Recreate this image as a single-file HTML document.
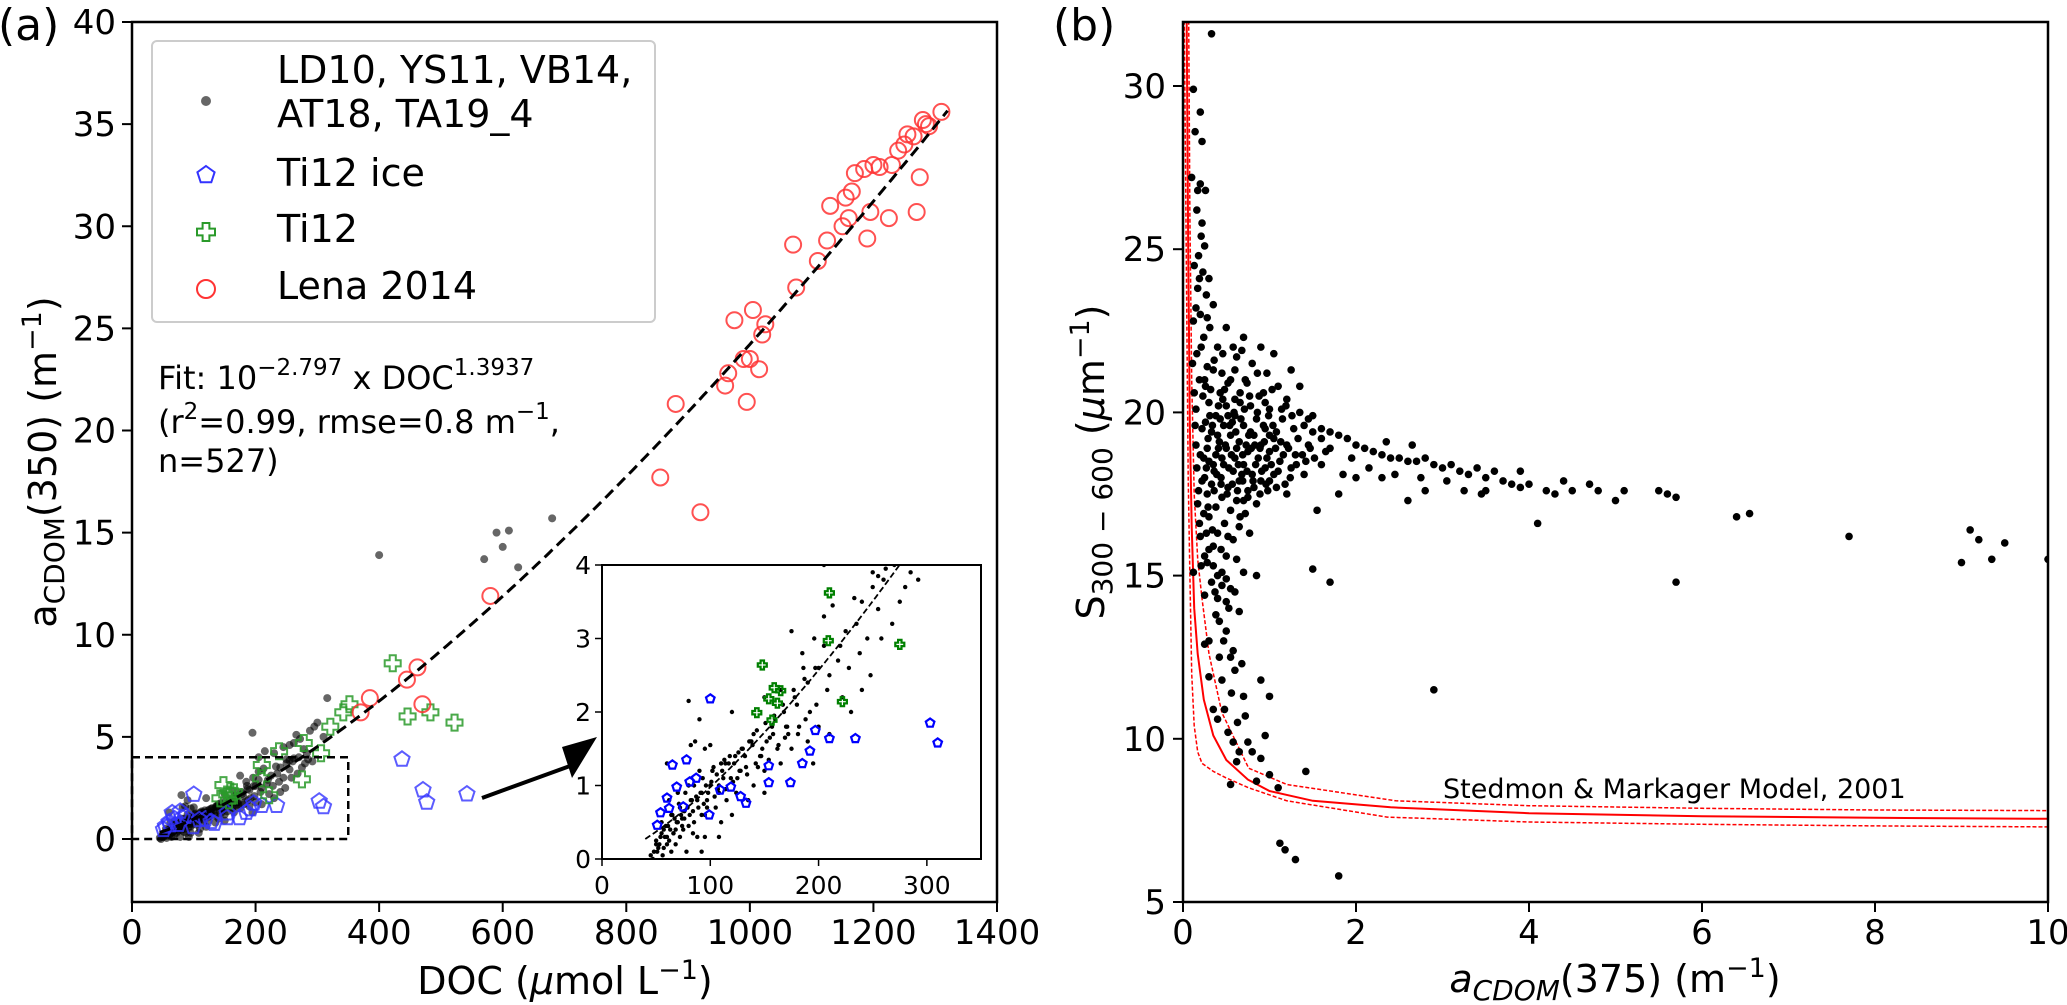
<!DOCTYPE html>
<html><head><meta charset="utf-8"><style>
html,body{margin:0;padding:0;background:#fff;}
svg{display:block;font-family:"DejaVu Sans","Liberation Sans",sans-serif;}
</style></head><body>
<svg id="fig" width="2067" height="1005" viewBox="0 0 2067 1005" xmlns="http://www.w3.org/2000/svg">
<defs>
<clipPath id="clipA"><rect x="132" y="22" width="865" height="880"/></clipPath>
<clipPath id="clipI"><rect x="602" y="565" width="379" height="294"/></clipPath>
<clipPath id="clipB"><rect x="1183" y="22" width="865" height="880"/></clipPath>
</defs>
<g id="layerA"></g>
<g id="layerB"></g>
</svg>
<script>
// ---------- Panel (a) data ----------
const aXTicks = [0,200,400,600,800,1000,1200,1400];
const aYTicks = [0,5,10,15,20,25,30,35,40];
const insetXTicks = [0,100,200,300];
const insetYTicks = [0,1,2,3,4];
const fitCoef = -2.797;
const fitExp = 1.3937;
const lenaDOC = [370,385,445,462,470,580,855,880,920,960,965,975,990,995,1000,1005,1015,1020,1025,1070,1075,1110,1125,1130,1150,1155,1160,1165,1170,1185,1190,1195,1200,1210,1225,1230,1240,1250,1255,1265,1270,1275,1280,1285,1290,1310];
const lenaA = [6.2,6.9,7.8,8.4,6.6,11.9,17.7,21.3,16.0,22.2,22.8,25.4,23.5,21.4,23.5,25.9,23.0,24.7,25.2,29.1,27.0,28.3,29.3,31.0,30.0,31.4,30.4,31.7,32.6,32.8,29.4,30.7,33.0,32.9,30.4,33.0,33.7,34.0,34.5,34.4,30.7,32.4,35.2,35.0,34.9,35.6];
const ti12DOC = [210,209,275,148,159,165,154,162,222,143,157,422,446,483,522,352,342,321,306,238,278];
const ti12A = [3.62,2.97,2.92,2.64,2.33,2.29,2.18,2.12,2.14,1.99,1.89,8.6,6.0,6.2,5.7,6.6,6.2,5.5,4.2,4.3,4.7];
const iceDOC = [303,310,234,210,197,192,185,174,154,154,100,128,133,119,109,99,65,78,69,60,54,51,62,75,81,87,437,471,477,542];
const iceA = [1.85,1.58,1.64,1.64,1.75,1.47,1.30,1.04,1.04,1.27,2.18,0.85,0.76,0.98,0.94,0.6,1.28,1.35,0.98,0.83,0.63,0.46,0.69,0.71,1.05,1.1,3.9,2.4,1.8,2.2];
const otherDOC = [400,570,590,600,610,625,680,195,316,266,262,288,295,283,300,272,230,215,250,240,205,175,185,150,120,90,70,55,50,60,80,100,95,110,130,140,160,165,170,180,190,200,210,220,225,235,245,255,260,270,275,285,165,150,140,125,115,105,95,85,75,65,68,78,88,98,108,118,128,138,148,158,168,178,188,198,208,218,228,238,248,258,268,190,175,200,62,72,82,92,102,112,122,132,142,152,162,172,182,57,45,52,66,74,84,94,104,114,124,134,144,154,86,80,82,100,60,90,250,255,262,233,213,196,186,205,280,292,240,222,230,195,210,150,135,120,110,95,92,108,245,255,278,310,205,
48,50,53,55,58,61,63,67,70,73,76,79,83,87,91,96,101,106,111,117,123,129,136,143,151,159,167,177,187,197,
47,51,54,57,59,62,64,66,69,71,74,77,81,85,89,93,97,103,107,113,119,126,133,139,146,155,163,171,181,192,
56,60,64,68,72,76,80,84,88,92,97,102,108,114,121,127,137,147,157,169];
const otherA = [13.9,13.7,15.0,14.3,15.1,13.3,15.7,5.2,6.9,5.1,4.7,5.3,5.5,4.2,5.7,4.9,4.2,4.3,3.7,3.5,3.3,3.1,2.8,2.2,2.0,1.2,0.9,0.5,0.2,0.3,1.0,1.0,1.5,1.3,1.5,1.7,1.9,2.3,1.8,2.1,2.4,2.6,2.5,2.9,3.1,3.2,3.0,3.4,3.8,4.0,3.5,3.9,1.3,1.2,1.0,1.1,0.8,0.7,0.6,0.5,0.4,0.6,0.2,0.1,0.3,0.9,1.0,1.4,1.2,1.6,1.5,1.7,2.0,2.2,1.9,2.1,2.3,2.7,2.6,2.8,2.5,3.0,3.2,1.6,1.5,1.8,0.8,0.7,0.8,0.9,1.2,1.1,1.3,1.4,1.3,1.6,1.5,1.7,1.8,0.4,0.05,0.15,0.35,0.55,0.65,0.75,0.85,0.95,0.9,1.15,1.25,1.35,1.6,2.15,1.55,1.55,1.3,1.9,3.9,3.85,3.95,3.55,3.45,3.0,2.6,2.9,3.7,3.8,2.3,2.2,2.0,1.3,1.7,0.9,0.8,0.6,0.5,0.3,0.1,0.3,4.5,4.6,4.4,5.0,4.0,
0.1,0.25,0.2,0.35,0.3,0.45,0.4,0.55,0.5,0.6,0.65,0.7,0.8,0.85,0.9,1.0,1.05,1.15,1.2,1.3,1.4,1.5,1.6,1.75,1.85,1.95,2.1,2.3,2.45,2.6,
0.0,0.1,0.3,0.15,0.45,0.25,0.6,0.35,0.5,0.75,0.45,0.9,0.6,1.0,0.7,1.1,0.8,1.25,0.95,1.35,1.1,1.45,1.25,1.55,1.4,1.65,1.55,1.8,1.7,2.0,
0.05,0.2,0.1,0.4,0.3,0.55,0.45,0.35,0.8,0.6,0.7,1.2,0.9,1.3,1.05,1.2,1.6,1.4,1.8,1.65];

// ---------- Panel (b) data ----------
const bXTicks = [0,2,4,6,8,10];
const bYTicks = [5,10,15,20,25,30];
const solidX = [0.043,0.06,0.08,0.1,0.13,0.17,0.24,0.35,0.5,0.75,1,1.5,2.4,4,6,8,10];
const solidS = [32,25,19.5,16.5,14,12.6,11.2,10.1,9.35,8.75,8.4,8.1,7.9,7.72,7.63,7.58,7.55];
const upperX = [0.066,0.08,0.1,0.13,0.17,0.22,0.3,0.45,0.76,1.2,2.46,4,6,8,10];
const upperS = [32,26,21,17.5,15.5,14.3,12.6,10.8,9.1,8.6,8.1,7.95,7.87,7.82,7.8];
const lowerX = [0.015,0.04,0.06,0.08,0.1,0.13,0.17,0.22,0.35,0.5,0.76,1.2,2.36,4,6,8,10];
const lowerS = [32,24,18,15,12,10.4,9.6,9.25,9.0,8.8,8.5,8.1,7.6,7.45,7.38,7.33,7.3];
const bPts = [[0.33,31.6],[0.12,29.9],[0.2,29.2],[0.14,28.6],[0.22,28.3],[0.1,27.2],[0.2,27.0],[0.26,26.8],[0.16,26.2],[0.21,25.4],[0.25,25.1],[0.18,24.8],[0.13,24.5],[0.23,24.3],[0.3,24.1],[0.17,23.8],[0.27,23.6],[0.35,23.3],[0.2,23.0],[0.12,22.8],[0.31,22.6],[0.24,22.3],[0.4,22.0],[0.16,21.8],[0.36,21.6],[0.28,21.4],[0.45,21.2],[0.19,21.0],[0.52,20.9],[0.32,20.7],[0.23,20.5],[0.6,20.4],[0.41,20.2],[0.15,20.1],
[0.5,22.6],[0.7,22.3],[0.9,22.0],[1.05,21.8],[0.62,21.7],[0.8,21.5],[0.35,21.3],[0.97,21.2],[0.55,21.0],[0.74,20.9],[1.1,20.8],[0.43,20.6],[0.66,20.6],[0.88,20.5],[1.2,20.4],[0.3,20.3],[0.5,20.2],[0.78,20.2],[1.0,20.1],[1.35,20.0],[0.38,19.9],[0.6,19.9],[0.85,19.8],[1.15,19.8],[0.26,19.7],[0.47,19.6],[0.7,19.6],[0.95,19.5],[1.28,19.5],[1.5,19.4],[0.33,19.4],[0.55,19.3],[0.82,19.3],[1.05,19.2],[0.42,19.1],[0.65,19.1],[0.9,19.0],[1.2,19.0],[1.45,19.0],[0.28,18.9],[0.5,18.9],[0.75,18.8],[1.0,18.8],[1.3,18.7],[0.38,18.7],[0.6,18.6],[0.87,18.6],[1.12,18.5],[0.3,18.5],[0.47,18.4],[0.7,18.4],[0.95,18.3],[1.25,18.3],[0.36,18.2],[0.58,18.2],[0.8,18.1],[1.05,18.1],[0.25,18.0],[0.44,18.0],[0.65,17.9],[0.9,17.9],[1.18,17.8],[0.33,17.8],[0.52,17.7],[0.75,17.6],[0.98,17.6],[0.28,17.5],[0.45,17.4],[0.62,17.3],[0.85,17.2],[0.38,17.1],[0.55,17.0],[0.72,16.9],[0.3,16.8],[0.48,16.6],[0.65,16.5],[0.4,16.3],[0.58,16.1],[0.35,15.9],[0.5,15.6],[0.28,15.4],[0.45,15.1],[0.33,14.8],[0.55,14.6],[0.4,14.3],
[0.57,19.7],[0.73,19.0],[0.93,19.6],[0.45,18.6],[0.68,18.1],[0.83,19.0],[1.08,19.4],[0.52,19.9],[0.62,18.9],[0.77,20.5],[0.4,19.3],[0.35,18.4],[1.0,17.9],[0.7,17.3],[0.95,20.3],[1.4,19.6],[1.6,19.2],[1.7,18.9],[0.2,18.7],[0.22,19.5],[0.18,17.6],[0.24,16.9],[0.2,16.2],[0.26,20.8],[0.15,19.0],
[0.12,15.1],[0.35,15.3],[0.4,15.0],[0.45,14.7],[0.5,14.9],[0.6,14.5],[0.25,14.4],[0.5,14.2],[0.65,13.9],[0.3,13.0],[0.55,12.5],[0.6,12.1],[0.45,11.8],[0.7,11.3],[0.35,10.9],[0.52,10.2],[0.65,9.6],[0.8,9.6],[0.9,9.4],[0.55,8.6],[1.0,8.9],[0.85,8.7],[1.1,8.5],[0.62,9.3],[0.4,10.6],[0.3,11.9],[0.72,10.7],[0.25,12.9],[0.5,13.3],[0.58,12.7],[1.12,6.8],[1.18,6.6],[1.3,6.3],[1.8,5.8],[1.42,9.0],[2.9,11.5],[1.0,11.3],[0.9,11.8],[0.95,10.1],
[1.5,19.9],[1.6,19.5],[1.7,19.4],[1.8,19.3],[1.9,19.2],[2.0,19.0],[2.1,18.9],[2.2,18.8],[2.3,18.7],[2.4,18.6],[2.5,18.6],[2.6,18.5],[2.7,18.5],[2.8,18.6],[2.9,18.4],[3.0,18.3],[3.1,18.4],[3.2,18.2],[3.3,18.1],[3.4,18.3],[3.5,18.0],[3.6,18.2],[3.7,17.9],[3.8,17.8],[3.9,17.7],[4.0,17.8],[4.2,17.6],[4.3,17.5],[4.5,17.6],[4.7,17.8],[4.8,17.6],[5.1,17.6],[5.5,17.6],[5.6,17.5],[5.7,17.4],[6.4,16.8],[6.55,16.9],[7.7,16.2],[9.0,15.4],[9.1,16.4],[9.2,16.1],[9.35,15.5],[9.5,16.0],[10.0,15.5],[5.7,14.8],[1.7,14.8],[1.5,15.2],[4.1,16.6],[2.8,17.6],[2.0,18.0],[1.8,17.5],[2.3,18.0],[1.4,18.1],[1.6,18.4],[1.55,17.0],[2.6,17.3],[3.5,17.6],[1.35,20.8],[1.25,21.3],
[1.95,18.6],[2.15,18.3],[2.45,18.1],[2.75,18.0],[3.05,17.9],[3.25,17.6],[3.45,17.5],[1.65,18.8],[1.85,18.1],[2.35,19.1],[2.65,19.0],[1.45,19.8],[3.9,18.2],[4.4,17.9],[5.0,17.3],
[0.29,19.2],[0.34,19.6],[0.39,18.1],[0.43,19.8],[0.46,20.4],[0.49,19.0],[0.53,18.3],[0.56,18.7],[0.59,20.0],[0.61,19.4],[0.64,18.4],[0.67,19.8],[0.69,18.7],[0.71,20.1],[0.74,18.2],[0.76,19.3],[0.79,18.9],[0.81,17.9],[0.84,18.4],[0.86,20.0],[0.89,18.9],[0.91,18.2],[0.94,19.1],[0.97,18.6],[0.99,19.9],[1.02,18.4],[1.04,19.6],[1.07,18.9],[1.1,18.2],[1.13,19.1],[1.16,18.7],[1.19,20.2],[1.22,18.9],[1.26,19.9],[1.31,18.4],[1.33,19.2],[1.38,18.7],[1.42,18.5],[1.47,18.9],[1.52,18.6],
[0.27,18.3],[0.31,19.9],[0.36,17.6],[0.41,18.9],[0.44,17.8],[0.48,20.7],[0.51,17.5],[0.54,19.6],[0.57,17.8],[0.6,21.3],[0.63,17.6],[0.66,20.3],[0.69,17.9],[0.72,21.0],[0.75,17.4],[0.78,19.4],[0.82,17.7],[0.86,21.2],[0.89,17.5],[0.93,20.6],[0.96,17.8],[1.0,19.3],[1.03,20.7],[1.08,17.7],[1.14,20.1],[1.2,17.5],[1.24,18.0],[0.46,21.8],[0.58,22.0],[0.68,21.9],
[0.11,21.5],[0.13,20.6],[0.14,19.6],[0.16,18.3],[0.17,17.2],[0.19,16.6],[0.21,22.0],[0.22,17.9],[0.24,18.6],[0.25,21.0],[0.27,16.3],[0.29,17.1],[0.15,23.2],[0.19,24.1],[0.22,25.8],[0.17,26.8],[0.28,22.9],[0.3,15.8],[0.25,15.6],[0.21,15.3],
[0.34,16.4],[0.37,14.5],[0.42,13.6],[0.47,13.0],[0.53,14.0],[0.56,11.4],[0.63,10.5],[0.68,12.3],[0.75,9.9],[0.58,9.9],[0.48,10.9],[0.42,12.5],[0.38,13.8],[0.62,15.5],[0.52,16.2],[0.44,15.8],[0.66,16.8],[0.77,16.3],[0.7,15.1],[0.85,15.0]];

// ---------- scales ----------
const ax = v => 132 + v * (865 / 1400);
const ay = v => 839 - v * 20.425;
const ix = v => 602 + v * (379 / 350);
const iy = v => 859 - v * 73.5;
const bx = v => 1183 + v * 86.5;
const by = v => 902 - (v - 5) * 32.64;

const NS = 'http://www.w3.org/2000/svg';
function mk(tag, attrs, parent) {
  const e = document.createElementNS(NS, tag);
  for (const k in attrs) e.setAttribute(k, attrs[k]);
  parent.appendChild(e);
  return e;
}
function txt(parent, x, y, s, size, anchor, extra) {
  const t = mk('text', Object.assign({x: x, y: y, 'font-size': size, 'text-anchor': anchor || 'start', fill: '#000'}, extra || {}), parent);
  t.textContent = s;
  return t;
}
function pentPts(cx, cy, r) {
  const p = [];
  for (let i = 0; i < 5; i++) {
    const a = -Math.PI / 2 + i * 2 * Math.PI / 5;
    p.push((cx + r * Math.cos(a)).toFixed(1) + ',' + (cy + r * Math.sin(a)).toFixed(1));
  }
  return p.join(' ');
}
function crossPts(cx, cy, r) {
  const w = r * 0.38;
  const pts = [[-w,-r],[w,-r],[w,-w],[r,-w],[r,w],[w,w],[w,r],[-w,r],[-w,w],[-r,w],[-r,-w],[-w,-w]];
  return pts.map(p => (cx + p[0]).toFixed(1) + ',' + (cy + p[1]).toFixed(1)).join(' ');
}

// ================= Panel A =================
const A = document.getElementById('layerA');
const aData = mk('g', {'clip-path': 'url(#clipA)'}, A);



const gOther = mk('g', {}, aData);


otherDOC.forEach((d, i) => {
  const c = mk('circle', {cx: ax(d), cy: ay(otherA[i]), r: 4, fill: '#000', 'fill-opacity': 0.6}, gOther);
  
  
});
const gIce = mk('g', {}, aData);


iceDOC.forEach((d, i) => {
  const p = mk('polygon', {points: pentPts(ax(d), ay(iceA[i]), 8), fill: 'none', stroke: '#3333ff', 'stroke-opacity': 0.8, 'stroke-width': 2}, gIce);
  
  
});
const gTi = mk('g', {}, aData);


ti12DOC.forEach((d, i) => {
  const p = mk('polygon', {points: crossPts(ax(d), ay(ti12A[i]), 8), fill: 'none', stroke: '#2a9a2a', 'stroke-opacity': 0.85, 'stroke-width': 2}, gTi);
  
  
});
const gLena = mk('g', {}, aData);


lenaDOC.forEach((d, i) => {
  const c = mk('circle', {cx: ax(d), cy: ay(lenaA[i]), r: 8, fill: 'none', stroke: '#ff3333', 'stroke-opacity': 0.85, 'stroke-width': 2}, gLena);
  
  
});
let fd = '';
for (let d = 45; d <= 1320; d += 5) {
  const v = Math.pow(10, fitCoef) * Math.pow(d, fitExp);
  fd += (fd ? 'L' : 'M') + ax(d).toFixed(1) + ',' + ay(v).toFixed(1);
}
const fitLine = mk('path', {d: fd, fill: 'none', stroke: '#000', 'stroke-width': 3, 'stroke-dasharray': '11,6'}, aData);


const zr = mk('rect', {x: ax(0), y: ay(4), width: ax(350) - ax(0), height: ay(0) - ay(4), fill: 'none', stroke: '#000', 'stroke-width': 2.5, 'stroke-dasharray': '8,5'}, A);


const arr = mk('g', {}, A);


mk('line', {x1: 482, y1: 798, x2: 570, y2: 766, stroke: '#000', 'stroke-width': 4}, arr);
mk('polygon', {points: '597,737 562,747 572,778', fill: '#000'}, arr);

const fa = mk('rect', {x: 132, y: 22, width: 865, height: 880, fill: 'none', stroke: '#000', 'stroke-width': 2.5}, A);


aXTicks.forEach(t => {
  mk('line', {x1: ax(t), y1: 902, x2: ax(t), y2: 912, stroke: '#000', 'stroke-width': 2}, A);
  const l = txt(A, ax(t), 944, String(t), 34, 'middle');
  
  
});
aYTicks.forEach(t => {
  mk('line', {x1: 122, y1: ay(t), x2: 132, y2: ay(t), stroke: '#000', 'stroke-width': 2}, A);
  const l = txt(A, 116, ay(t) + 12, String(t), 34, 'end');
  
  
});
const xl = mk('text', {x: 565, y: 994, 'font-size': 38, 'text-anchor': 'middle'}, A);


xl.innerHTML = 'DOC (<tspan font-style="italic">μ</tspan>mol L<tspan dy="-15" font-size="27">−1</tspan><tspan dy="15">)</tspan>';
const yl = mk('text', {x: 0, y: 0, 'font-size': 38, 'text-anchor': 'middle', transform: 'translate(56,462) rotate(-90)'}, A);


yl.innerHTML = 'a<tspan dy="8" font-size="28">CDOM</tspan><tspan dy="-8">(350) (m</tspan><tspan dy="-15" font-size="27">−1</tspan><tspan dy="15">)</tspan>';
const pa = txt(A, -2, 40, '(a)', 44, 'start');



const lg = mk('g', {}, A);


mk('rect', {x: 152, y: 41, width: 503, height: 281, rx: 5, fill: '#fff', 'fill-opacity': 0.85, stroke: '#cccccc', 'stroke-width': 2}, lg);
const le1 = mk('g', {}, lg);


mk('circle', {cx: 206, cy: 101, r: 5, fill: '#000', 'fill-opacity': 0.6}, le1);
txt(le1, 277, 83, 'LD10, YS11, VB14,', 38);
txt(le1, 277, 127, 'AT18, TA19_4', 38);
const le2 = mk('g', {}, lg);


mk('polygon', {points: pentPts(206, 175, 9), fill: 'none', stroke: '#3333ff', 'stroke-width': 2}, le2);
txt(le2, 277, 186, 'Ti12 ice', 38);
const le3 = mk('g', {}, lg);


mk('polygon', {points: crossPts(206, 232, 9), fill: 'none', stroke: '#2a9a2a', 'stroke-width': 2}, le3);
txt(le3, 277, 242, 'Ti12', 38);
const le4 = mk('g', {}, lg);


mk('circle', {cx: 206, cy: 289, r: 9, fill: 'none', stroke: '#ff3333', 'stroke-width': 2}, le4);
txt(le4, 277, 299, 'Lena 2014', 38);

const fitT = mk('g', {}, A);


const f1 = mk('text', {x: 158, y: 389, 'font-size': 32}, fitT);
f1.innerHTML = 'Fit: 10<tspan dy="-14" font-size="23">−2.797</tspan><tspan dy="14"> x DOC</tspan><tspan dy="-14" font-size="23">1.3937</tspan>';
const f2 = mk('text', {x: 158, y: 433, 'font-size': 32}, fitT);
f2.innerHTML = '(r<tspan dy="-14" font-size="23">2</tspan><tspan dy="14">=0.99, rmse=0.8 m</tspan><tspan dy="-14" font-size="23">−1</tspan><tspan dy="14">,</tspan>';
txt(fitT, 158, 472, 'n=527)', 32);

// inset
const IN = mk('g', {}, A);


mk('rect', {x: 602, y: 565, width: 379, height: 294, fill: '#fff'}, IN);
const inData = mk('g', {'clip-path': 'url(#clipI)'}, IN);
otherDOC.forEach((d, i) => {
  const c = mk('circle', {cx: ix(d), cy: iy(otherA[i]), r: 2.2, fill: '#000'}, inData);
  
  
});
let fi = '';
for (let d = 40; d <= 360; d += 3) {
  const v = Math.pow(10, fitCoef) * Math.pow(d, fitExp);
  fi += (fi ? 'L' : 'M') + ix(d).toFixed(1) + ',' + iy(v).toFixed(1);
}
const ifl = mk('path', {d: fi, fill: 'none', stroke: '#000', 'stroke-width': 1.8, 'stroke-dasharray': '6,3'}, inData);


iceDOC.forEach((d, i) => {
  const p = mk('polygon', {points: pentPts(ix(d), iy(iceA[i]), 4.5), fill: 'none', stroke: '#0000ff', 'stroke-width': 2.2}, inData);
  
  
});
ti12DOC.forEach((d, i) => {
  const p = mk('polygon', {points: crossPts(ix(d), iy(ti12A[i]), 4.5), fill: 'none', stroke: '#008000', 'stroke-width': 2.2}, inData);
  
  
});
mk('rect', {x: 602, y: 565, width: 379, height: 294, fill: 'none', stroke: '#000', 'stroke-width': 2}, IN);
insetXTicks.forEach(t => {
  mk('line', {x1: ix(t), y1: 859, x2: ix(t), y2: 866, stroke: '#000', 'stroke-width': 1.5}, IN);
  const l = txt(IN, ix(t), 894, String(t), 25, 'middle');
  
  
});
insetYTicks.forEach(t => {
  mk('line', {x1: 595, y1: iy(t), x2: 602, y2: iy(t), stroke: '#000', 'stroke-width': 1.5}, IN);
  const l = txt(IN, 591, iy(t) + 9, String(t), 25, 'end');
  
  
});

// ================= Panel B =================
const B = document.getElementById('layerB');
const bData = mk('g', {'clip-path': 'url(#clipB)'}, B);


function curve(xs, ss, dash, w, name) {
  let d = '';
  xs.forEach((x, i) => { d += (d ? 'L' : 'M') + bx(x).toFixed(1) + ',' + by(ss[i]).toFixed(1); });
  const p = mk('path', {d: d, fill: 'none', stroke: '#ff0000', 'stroke-width': w}, bData);
  if (dash) p.setAttribute('stroke-dasharray', dash);
  
  
}
curve(solidX, solidS, null, 2, 'model-curve');
curve(upperX, upperS, '4,2', 1.5, 'model-upper-bound');
curve(lowerX, lowerS, '4,2', 1.5, 'model-lower-bound');
const gB = mk('g', {}, bData);


bPts.forEach(p => {
  const c = mk('circle', {cx: bx(p[0]), cy: by(p[1]), r: 3.8, fill: '#000'}, gB);
  
  
});
const fb = mk('rect', {x: 1183, y: 22, width: 865, height: 880, fill: 'none', stroke: '#000', 'stroke-width': 2.5}, B);


bXTicks.forEach(t => {
  mk('line', {x1: bx(t), y1: 902, x2: bx(t), y2: 912, stroke: '#000', 'stroke-width': 2}, B);
  const l = txt(B, bx(t), 944, String(t), 34, 'middle');
  
  
});
bYTicks.forEach(t => {
  mk('line', {x1: 1173, y1: by(t), x2: 1183, y2: by(t), stroke: '#000', 'stroke-width': 2}, B);
  const l = txt(B, 1166, by(t) + 12, String(t), 34, 'end');
  
  
});
const sm = txt(B, 1443, 798, 'Stedmon & Markager Model, 2001', 27, 'start');


const bxl = mk('text', {x: 1615, y: 992, 'font-size': 38, 'text-anchor': 'middle'}, B);


bxl.innerHTML = '<tspan font-style="italic">a</tspan><tspan dy="8" font-size="28" font-style="italic">CDOM</tspan><tspan dy="-8">(375) (m</tspan><tspan dy="-15" font-size="27">−1</tspan><tspan dy="15">)</tspan>';
const byl = mk('text', {x: 0, y: 0, 'font-size': 38, 'text-anchor': 'middle', transform: 'translate(1104,462) rotate(-90)'}, B);


byl.innerHTML = 'S<tspan dy="8" font-size="28">300 − 600</tspan><tspan dy="-8"> (</tspan><tspan font-style="italic">μ</tspan>m<tspan dy="-15" font-size="27">−1</tspan><tspan dy="15">)</tspan>';
const pb = txt(B, 1053, 40, '(b)', 44, 'start');


</script>
</body></html>
